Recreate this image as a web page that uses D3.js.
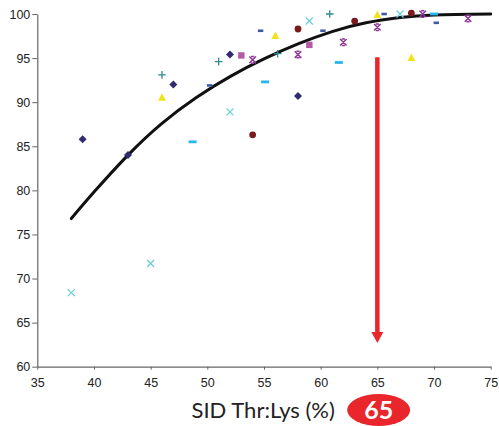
<!DOCTYPE html>
<html>
<head>
<meta charset="utf-8">
<script src="https://cdn.jsdelivr.net/npm/d3@7"></script>
<style>
  html, body { margin: 0; padding: 0; background: #fff; }
  svg { display: block; }
</style>
</head>
<body>
<svg id="chart" width="499" height="426"></svg>
<script>
// ---- data ----
const xTicks = [35, 40, 45, 50, 55, 60, 65, 70, 75];
const yTicks = [60, 65, 70, 75, 80, 85, 90, 95, 100];

const diamondX = [39, 43, 47, 52, 58];
const diamondY = [85.8, 84.0, 92.0, 95.4, 90.7];

const squareX = [53, 59];
const squareY = [95.3, 96.5];

const triangleX = [46, 56, 65, 68];
const triangleY = [90.5, 97.5, 99.9, 95.0];

const plusX = [46, 51, 56.2, 60.8];
const plusY = [93.1, 94.6, 95.5, 100];

const crossX = [38, 45, 52, 59, 67];
const crossY = [68.4, 71.7, 88.9, 99.2, 100];

const circleX = [54, 58, 63, 68];
const circleY = [86.3, 98.3, 99.2, 100.1];

const starX = [54, 58, 62, 65, 69, 73];
const starY = [94.8, 95.4, 96.8, 98.5, 100, 99.5];

const shortDashX = [50.2, 54.7, 60.2, 65.6, 70.2];
const shortDashY = [91.9, 98.1, 98.1, 100, 99.0];

const longDashX = [48.7, 55.1, 61.6, 70];
const longDashY = [85.5, 92.3, 94.5, 100];

const curveX = [38, 40, 43, 46, 49, 52, 55, 58, 61, 64, 67, 70, 75];
const curveY = [76.8, 79.8, 84.0, 87.6, 90.5, 92.9, 94.9, 96.6, 98.0, 99.0, 99.6, 99.9, 100];

const optimumX = 65;
const arrowFromY = 95.1;
const arrowToY = 62.7;
const xTitle = "SID Thr:Lys (%)";
const optimumLabel = "65";

// ---- layout ----
(function () {
const svg = d3.select("#chart");
const mLeft = 37.3, mRight = 490.7, mTop = 14, mBottom = 366.7;
const x = d3.scaleLinear().domain([35, 75]).range([mLeft, mRight]);
const y = d3.scaleLinear().domain([60, 100]).range([mBottom, mTop]);

const axisColor = "#666";
const labelFont = "'Liberation Sans', Arial, sans-serif";

const gy = svg.append("g").attr("transform", `translate(${mLeft},0)`)
  .call(d3.axisLeft(y).tickValues(yTicks).tickSize(5).tickSizeOuter(0).tickPadding(2));
const gx = svg.append("g").attr("transform", `translate(0,${mBottom})`)
  .call(d3.axisBottom(x).tickValues(xTicks).tickSize(3).tickSizeOuter(0).tickPadding(8));
[gx, gy].forEach(g => {
  g.select(".domain").attr("stroke", axisColor).attr("stroke-width", 1.2);
  g.selectAll(".tick line").attr("stroke", axisColor).attr("stroke-width", 1);
  g.selectAll(".tick text").attr("fill", "#222").style("font-family", labelFont).style("font-size", "12.5px");
});

const curvePts = curveX.map((v, i) => [v, curveY[i]]);
svg.append("path")
  .datum(curvePts)
  .attr("fill", "none")
  .attr("stroke", "#111")
  .attr("stroke-width", 3)
  .attr("stroke-linecap", "round")
  .attr("d", d3.line().x(d => x(d[0])).y(d => y(d[1])).curve(d3.curveNatural));

function pts(xs, ys) { return xs.map((v, i) => ({ x: x(v), y: y(ys[i]) })); }

svg.append("g").selectAll("path").data(pts(diamondX, diamondY)).join("path")
  .attr("d", d => `M${d.x},${d.y - 4}L${d.x + 4},${d.y}L${d.x},${d.y + 4}L${d.x - 4},${d.y}Z`)
  .attr("fill", "#2f2b6e");

svg.append("g").selectAll("rect").data(pts(squareX, squareY)).join("rect")
  .attr("x", d => d.x - 3.2).attr("y", d => d.y - 3.2).attr("width", 6.4).attr("height", 6.4)
  .attr("fill", "#b35aa6");

svg.append("g").selectAll("path").data(pts(triangleX, triangleY)).join("path")
  .attr("d", d => `M${d.x},${d.y - 4.5}L${d.x + 4},${d.y + 3}L${d.x - 4},${d.y + 3}Z`)
  .attr("fill", "#f0e31c");

svg.append("g").selectAll("path").data(pts(plusX, plusY)).join("path")
  .attr("d", d => `M${d.x - 3.8},${d.y}H${d.x + 3.8}M${d.x},${d.y - 3.8}V${d.y + 3.8}`)
  .attr("stroke", "#2c8c8e").attr("stroke-width", 1.3).attr("fill", "none");

svg.append("g").selectAll("path").data(pts(crossX, crossY)).join("path")
  .attr("d", d => `M${d.x - 3.5},${d.y - 3.5}L${d.x + 3.5},${d.y + 3.5}M${d.x + 3.5},${d.y - 3.5}L${d.x - 3.5},${d.y + 3.5}`)
  .attr("stroke", "#6ccfdc").attr("stroke-width", 1.3).attr("fill", "none");

svg.append("g").selectAll("circle").data(pts(circleX, circleY)).join("circle")
  .attr("cx", d => d.x).attr("cy", d => d.y).attr("r", 3.4)
  .attr("fill", "#7b1a1d");

svg.append("g").selectAll("path").data(pts(starX, starY)).join("path")
  .attr("d", d => `M${d.x - 3.3},${d.y - 3.3}L${d.x + 3.3},${d.y + 3.3}M${d.x + 3.3},${d.y - 3.3}L${d.x - 3.3},${d.y + 3.3}M${d.x - 1.6},${d.y - 3.3}H${d.x + 1.6}M${d.x - 1.6},${d.y + 3.3}H${d.x + 1.6}`)
  .attr("stroke", "#8d3b96").attr("stroke-width", 1.5).attr("fill", "none");

svg.append("g").selectAll("rect").data(pts(shortDashX, shortDashY)).join("rect")
  .attr("x", d => d.x - 2.7).attr("y", d => d.y - 1.3).attr("width", 5.4).attr("height", 2.6)
  .attr("fill", "#3b5aa7");

svg.append("g").selectAll("rect").data(pts(longDashX, longDashY)).join("rect")
  .attr("x", d => d.x - 4).attr("y", d => d.y - 1.4).attr("width", 8).attr("height", 2.8)
  .attr("fill", "#28b6e8");

const red = "#e8262b";
const ax = x(optimumX);
const tipY = y(arrowToY);
svg.append("line")
  .attr("x1", ax).attr("x2", ax)
  .attr("y1", y(arrowFromY)).attr("y2", tipY - 9)
  .attr("stroke", red).attr("stroke-width", 4.5);
svg.append("path")
  .attr("d", `M${ax - 6},${tipY - 11}L${ax + 6},${tipY - 11}L${ax},${tipY}Z`)
  .attr("fill", red);

svg.append("text")
  .attr("x", 191.5).attr("y", 418)
  .attr("fill", "#222")
  .style("font-family", "Lato, 'Open Sans', sans-serif")
  .style("font-size", "22px")
  .text(xTitle);

svg.append("ellipse")
  .attr("cx", ax + 1.3).attr("cy", 410).attr("rx", 31.5).attr("ry", 16)
  .attr("fill", red);
svg.append("text")
  .attr("x", ax + 1.3).attr("y", 418.5)
  .attr("text-anchor", "middle")
  .attr("fill", "#fff")
  .style("font-family", "Lato, 'Open Sans', sans-serif")
  .style("font-weight", "bold")
  .style("font-size", "25px")
  .text(optimumLabel);
})();
</script>
</body>
</html>
